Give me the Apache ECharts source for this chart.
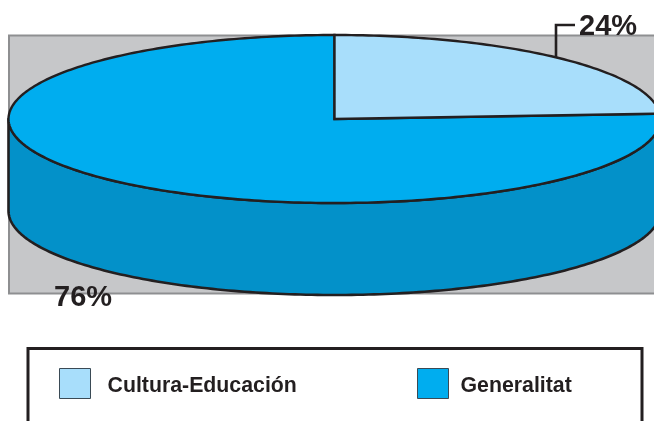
<!DOCTYPE html>
<html>
<head>
<meta charset="utf-8">
<style>html,body{margin:0;padding:0;background:#fff;overflow:hidden}#c{width:654px;height:421px}</style>
<script src="https://cdn.jsdelivr.net/npm/echarts@6/dist/echarts.min.js"></script>
</head>
<body>
<div id="c"></div>
<script>
var categories = ['Cultura-Educación', 'Generalitat'];
var values = [24, 76];
var percentLabels = ['24%', '76%'];
var topColors = ['#A8DEFB', '#00ADEF'];
var sideColor = '#0391C9';
var inkColor = '#231F20';

var pie = { cx: 334.5, cy: 119, rx: 326, ry: 84, depth: 92 };
var labelSpots = [{ x: 579, y: 12 }, { x: 54, y: 283 }];
var total = values.reduce(function (a, b) { return a + b; }, 0);

function point(deg, dy) {
  var r = deg * Math.PI / 180;
  return [pie.cx + pie.rx * Math.cos(r), pie.cy + (dy || 0) - pie.ry * Math.sin(r)];
}

function sweep(from, to) {
  var pts = [], n = Math.max(2, Math.ceil(Math.abs(to - from)));
  for (var i = 0; i <= n; i++) pts.push(from + (to - from) * i / n);
  return pts;
}

function makeSeries(idx) {
  var before = values.slice(0, idx).reduce(function (a, b) { return a + b; }, 0);
  return {
    type: 'custom',
    name: categories[idx],
    coordinateSystem: 'none',
    itemStyle: { color: topColors[idx] },
    z: 5 - idx,
    data: [[values[idx]]],
    renderItem: function (params, api) {
      var start = 90 - 360 * before / total;
      var end = start - 360 * api.value(0) / total;
      var children = [];
      // visible front wall: the part of the slice on the lower half of the ellipse
      var a = Math.min(start, 0), b = Math.max(end, -180);
      if (a > b) {
        var arc = sweep(a, b);
        var wall = arc.map(function (t) { return point(t, 0); })
          .concat(arc.slice().reverse().map(function (t) { return point(t, pie.depth); }));
        children.push({
          type: 'polygon',
          shape: { points: wall },
          style: { fill: sideColor, stroke: inkColor, lineWidth: 2.6, lineJoin: 'round' }
        });
      }
      var top = [[pie.cx, pie.cy]].concat(sweep(start, end).map(function (t) { return point(t, 0); }));
      children.push({
        type: 'polygon',
        shape: { points: top },
        style: { fill: api.visual('color'), stroke: inkColor, lineWidth: 2.4, lineJoin: 'miter' }
      });
      if (idx === 0) {
        children.push({
          type: 'polyline',
          shape: { points: [[556, 58], [556, 25], [575, 25]] },
          style: { fill: null, stroke: inkColor, lineWidth: 2.6 }
        });
      }
      children.push({
        type: 'text',
        z2: 50,
        style: {
          x: labelSpots[idx].x, y: labelSpots[idx].y,
          text: percentLabels[idx],
          fill: inkColor,
          font: 'bold 29px "Liberation Sans", Arial, sans-serif'
        }
      });
      return { type: 'group', children: children };
    }
  };
}

function makeLegend(idx, left, textGap) {
  return {
    data: [categories[idx]],
    left: left, top: 368,
    padding: 0,
    icon: 'rect',
    itemWidth: 31, itemHeight: 30,
    itemStyle: { borderColor: '#3a4a55', borderWidth: 1 },
    selectedMode: false,
    formatter: '{t|{name}}',
    textStyle: {
      rich: {
        t: {
          color: inkColor,
          fontFamily: '"Liberation Sans", Arial, sans-serif',
          fontWeight: 'bold',
          fontSize: 21.3,
          padding: [6, 0, 0, textGap]
        }
      }
    }
  };
}

var chart = echarts.init(document.getElementById('c'), null, { renderer: 'canvas' });
chart.setOption({
  animation: false,
  backgroundColor: '#fff',
  legend: [makeLegend(0, 59, 12), makeLegend(1, 417, 7)],
  graphic: [
    { type: 'rect', z: 0, shape: { x: 9, y: 35.5, width: 660, height: 258 },
      style: { fill: '#C6C7C9', stroke: '#8E8F91', lineWidth: 2 } },
    { type: 'rect', z: 0, shape: { x: 28, y: 348.5, width: 614, height: 90 },
      style: { fill: '#fff', stroke: inkColor, lineWidth: 3 } }
  ],
  series: [makeSeries(0), makeSeries(1)]
});
</script>
</body>
</html>
